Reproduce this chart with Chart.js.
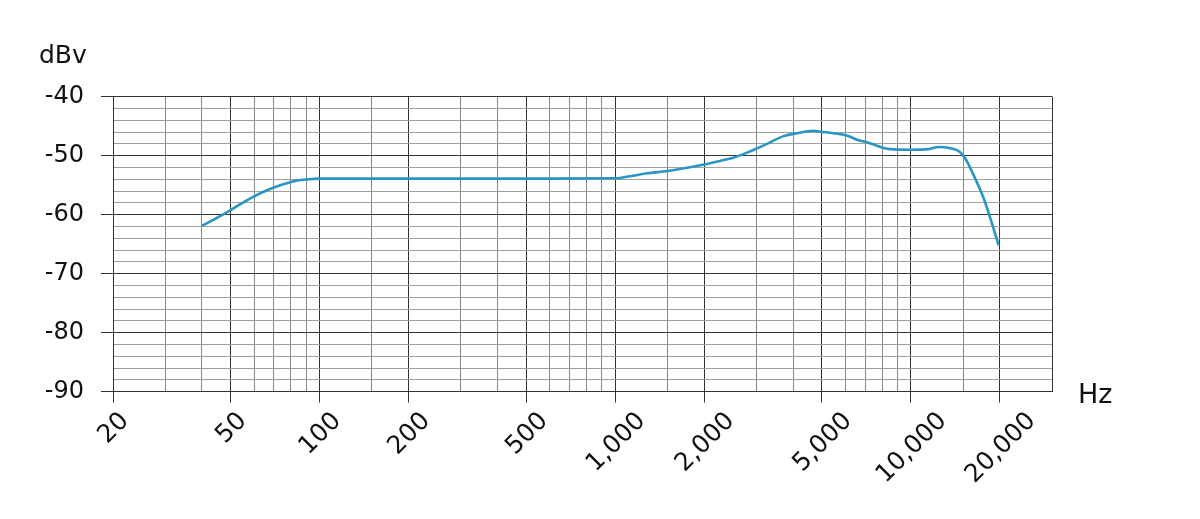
<!DOCTYPE html>
<html>
<head>
<meta charset="utf-8">
<script src="https://cdn.jsdelivr.net/npm/chart.js@4"></script>
<style>
html,body{margin:0;padding:0;background:#fff;}
#wrap{width:1200px;height:519px;position:relative;}
</style>
</head>
<body>
<div id="wrap"><canvas id="c" width="1200" height="519"></canvas></div>
<script>
// ---- data ----
const freqHz = [40, 44, 49, 54.5, 60, 67, 74, 82.5, 91.5, 100, 200, 500, 1000, 1120, 1280, 1500, 1750, 2000, 2260, 2510, 2790, 3010, 3340, 3710, 4120, 4680, 4930, 5470, 6070, 6740, 7000, 8080, 8510, 10000, 11470, 12400, 13590, 14610, 15270, 16290, 17610, 18550, 19800];
const levelDbv = [-61.9, -60.8, -59.5, -58.1, -56.9, -55.8, -55.0, -54.3, -54.0, -53.9, -53.9, -53.9, -53.85, -53.5, -53.0, -52.6, -52.05, -51.5, -50.9, -50.35, -49.5, -48.8, -47.75, -46.7, -46.2, -45.8, -45.95, -46.2, -46.6, -47.5, -47.65, -48.7, -48.9, -49.0, -48.9, -48.55, -48.75, -49.35, -50.5, -53.3, -57.2, -60.6, -65.2];
const xGridValues = [20, 30, 40, 50, 60, 70, 80, 90, 100, 150, 200, 300, 400, 500, 600, 700, 800, 900, 1000, 1500, 2000, 3000, 4000, 5000, 6000, 7000, 8000, 9000, 10000, 15000, 20000, 30000];
const xLabelValues = [20, 50, 100, 200, 500, 1000, 2000, 5000, 10000, 20000];
const xTickLabels = ['20', '50', '100', '200', '500', '1,000', '2,000', '5,000', '10,000', '20,000'];
const yMin = -90, yMax = -40, yStep = 2;
const yLabelValues = [-90, -80, -70, -60, -50, -40];
const yUnit = 'dBv';
const xUnit = 'Hz';

const FONT = "'DejaVu Sans', sans-serif";
const DARK = '#333333';
const LIGHT = '#a0a0a0';

const labelFor = v => {
  const i = xLabelValues.indexOf(v);
  return i >= 0 ? xTickLabels[i] : '';
};

// centre rotated x labels on their ticks (as in the reference)
const centerLabels = {
  id: 'centerLabels',
  beforeDraw(chart) {
    const sc = chart.scales.x;
    if (!sc || !sc.getLabelItems) return;
    const items = sc.getLabelItems();
    const ctx = chart.ctx;
    items.forEach(it => {
      if (!it || !it.options || !it.options.translation) return;
      const i = xTickLabels.indexOf(String(it.label));
      if (i < 0) return;
      const px = sc.getPixelForValue(xLabelValues[i]);
      ctx.save();
      ctx.font = it.font.string;
      const w = ctx.measureText(it.label).width;
      ctx.restore();
      const gh = it.font.size * 0.75;
      const half = (w + gh) * Math.SQRT1_2 / 2;
      it.options.textAlign = 'center';
      it.options.textBaseline = 'middle';
      it.textOffset = 0;
      it.options.translation = [px + 1, sc.top + 19 + half];
    });
  }
};

const unitLabels = {
  id: 'unitLabels',
  afterDraw(chart) {
    const ctx = chart.ctx;
    ctx.save();
    ctx.fillStyle = '#111';
    ctx.textBaseline = 'alphabetic';
    ctx.textAlign = 'left';
    ctx.font = '25px ' + FONT;
    ctx.fillText(yUnit, 39, 62.5);
    ctx.font = '27px ' + FONT;
    ctx.fillText(xUnit, chart.chartArea.right + 26, 403);
    ctx.restore();
  }
};

new Chart(document.getElementById('c'), {
  type: 'line',
  data: {
    datasets: [{
      data: freqHz.map((f, i) => ({x: f, y: levelDbv[i]})),
      borderColor: '#2895c3',
      borderWidth: 2.6,
      pointRadius: 0,
      fill: false,
      cubicInterpolationMode: 'monotone'
    }]
  },
  options: {
    responsive: false,
    animation: false,
    devicePixelRatio: 1,
    layout: {padding: {top: 96.6, right: 148, bottom: 0, left: 0}},
    plugins: {legend: {display: false}, tooltip: {enabled: false}, title: {display: false}},
    scales: {
      x: {
        type: 'logarithmic',
        min: 20,
        max: 30000,
        afterBuildTicks: s => { s.ticks = xGridValues.map(v => ({value: v})); },
        afterFit: s => { s.height = 127.4; },
        ticks: {
          autoSkip: false,
          minRotation: 45,
          maxRotation: 45,
          padding: 4,
          color: '#111',
          font: {family: FONT, size: 25},
          callback: v => labelFor(v)
        },
        grid: {
          drawOnChartArea: true,
          drawTicks: true,
          tickLength: 11,
          lineWidth: 1,
          color: c => (c.tick && (xLabelValues.includes(c.tick.value) || c.tick.value === 30000)) ? DARK : '#858585',
          tickColor: c => (c.tick && xLabelValues.includes(c.tick.value)) ? DARK : 'rgba(0,0,0,0)'
        },
        border: {display: true, color: DARK, width: 1}
      },
      y: {
        type: 'linear',
        min: yMin,
        max: yMax,
        afterFit: s => { s.width = 113; },
        ticks: {
          stepSize: yStep,
          autoSkip: false,
          padding: 17,
          color: '#111',
          font: {family: FONT, size: 24},
          callback: v => yLabelValues.includes(v) ? String(v) : ''
        },
        grid: {
          drawTicks: true,
          tickLength: 12,
          lineWidth: 1,
          color: c => (c.tick && c.tick.value % 10 === 0) ? DARK : LIGHT,
          tickColor: c => (c.tick && c.tick.value % 10 === 0) ? DARK : 'rgba(0,0,0,0)'
        },
        border: {display: true, color: DARK, width: 1}
      }
    }
  },
  plugins: [centerLabels, unitLabels]
});
</script>
</body>
</html>
